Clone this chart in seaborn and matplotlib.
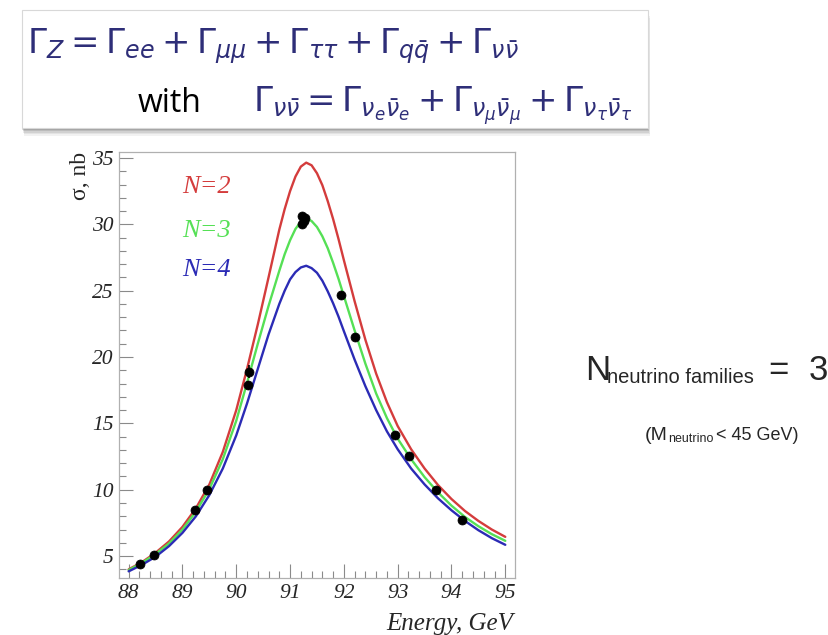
import numpy as np
import pandas as pd
import seaborn as sns
import matplotlib.pyplot as plt
from matplotlib.patches import Rectangle
from matplotlib.ticker import MultipleLocator

# curve values (sigma in nb vs energy in GeV)
energy = [88.0, 88.25, 88.5, 88.75, 89.0, 89.25, 89.5, 89.75, 90.0, 90.2,
          90.4, 90.6, 90.8, 90.9, 91.0, 91.1, 91.2, 91.3, 91.4, 91.5,
          91.6, 91.7, 91.8, 91.9, 92.0, 92.2, 92.4, 92.6, 92.8, 93.0,
          93.25, 93.5, 93.75, 94.0, 94.25, 94.5, 94.75, 95.0]
sigma_n2 = [4.0, 4.55, 5.25, 6.1, 7.2, 8.6, 10.4, 12.85, 16.0, 19.1,
            22.45, 26.0, 29.6, 31.15, 32.5, 33.6, 34.35, 34.65, 34.45, 33.85,
            32.95, 31.75, 30.4, 28.9, 27.3, 24.2, 21.3, 18.75, 16.6, 14.8,
            13.05, 11.6, 10.35, 9.3, 8.4, 7.65, 7.0, 6.45]
sigma_n3 = [3.95, 4.5, 5.15, 5.95, 7.0, 8.35, 10.05, 12.3, 15.2, 18.05,
            21.0, 23.85, 26.5, 27.75, 28.8, 29.65, 30.2, 30.45, 30.25, 29.8,
            29.1, 28.2, 27.1, 25.9, 24.6, 22.0, 19.5, 17.25, 15.4, 13.85,
            12.3, 10.95, 9.8, 8.8, 7.95, 7.25, 6.65, 6.15]
sigma_n4 = [3.85, 4.35, 4.95, 5.75, 6.75, 8.0, 9.6, 11.6, 14.1, 16.5,
            19.1, 21.7, 24.0, 25.0, 25.85, 26.4, 26.75, 26.88, 26.7, 26.35,
            25.75, 24.95, 24.05, 23.05, 21.95, 19.8, 17.8, 16.0, 14.4, 13.05,
            11.6, 10.4, 9.35, 8.45, 7.65, 6.95, 6.35, 5.85]

# measured points
data_energy = [88.22, 88.47, 89.23, 89.46, 90.21, 90.23, 91.22, 91.28,
               91.22, 91.25, 91.95, 92.21, 92.95, 93.21, 93.71, 94.20]
data_sigma = [4.4, 5.1, 8.45, 9.95, 17.9, 18.9, 30.6, 30.45,
              30.0, 30.25, 24.7, 21.5, 14.1, 12.55, 10.0, 7.75]
data_err = [0.1, 0.1, 0.15, 0.15, 0.3, 0.5, 0.2, 0.2,
            0.2, 0.2, 0.2, 0.2, 0.15, 0.15, 0.1, 0.1]

labels = ['N=2', 'N=3', 'N=4']
colors = {'N=2': '#d43c3c', 'N=3': '#55e055', 'N=4': '#2b2bb5'}

sns.set_style('white')
plt.rcParams['font.family'] = ['Liberation Serif', 'DejaVu Serif']
plt.rcParams['mathtext.fontset'] = 'dejavusans'

fig = plt.figure(figsize=(8.29, 6.35), dpi=100)
ax = fig.add_axes([0.1435, 0.0898, 0.4777, 0.6708])

curves = pd.DataFrame({
    'energy': energy * 3,
    'sigma': sigma_n2 + sigma_n3 + sigma_n4,
    'N': [labels[0]] * len(energy) + [labels[1]] * len(energy) + [labels[2]] * len(energy),
})
sns.lineplot(data=curves, x='energy', y='sigma', hue='N', palette=colors,
             estimator=None, linewidth=1.7, legend=False, ax=ax)

ax.errorbar(data_energy, data_sigma, yerr=data_err, fmt='none',
            ecolor='black', elinewidth=1.2, zorder=4)
sns.scatterplot(x=data_energy, y=data_sigma, color='black', s=42,
                edgecolor='black', zorder=5, ax=ax)

ax.set_xlim(87.82, 95.18)
ax.set_ylim(3.35, 35.45)
ax.set_xticks(range(88, 96))
ax.set_xticklabels([str(v) for v in range(88, 96)], fontstyle='italic')
ax.set_yticks(range(5, 40, 5))
ax.set_yticklabels([str(v) for v in range(5, 40, 5)], fontstyle='italic')
ax.xaxis.set_minor_locator(MultipleLocator(0.2))
ax.yaxis.set_minor_locator(MultipleLocator(1))
ax.tick_params(which='both', bottom=True, left=True, top=False, right=False)
ax.tick_params(which='major', direction='in', length=10, width=0.8,
               color='#8a8a8a', labelsize=15.5, pad=4)
ax.tick_params(which='minor', direction='in', length=5, width=0.8,
               color='#8a8a8a')
for s in ax.spines.values():
    s.set_color('#b0b0b0')
    s.set_linewidth(0.9)
ax.set_xlabel('')
ax.set_ylabel('')

ax.text(-0.098, 1.0, 'σ, nb', rotation=90, transform=ax.transAxes,
        ha='center', va='top', fontsize=17)
fig.text(513 / 829, 1 - 624 / 635, 'Energy, GeV', ha='right', va='center',
         fontstyle='italic', fontsize=18)

for lab, yp in zip(labels, [187.5, 231, 270]):
    fig.text(182 / 829, 1 - yp / 635, lab, color=colors[lab], fontsize=19,
             fontstyle='italic', va='center', ha='left')

# equation box at the top with a soft shadow
for i, a in enumerate([0.05, 0.06, 0.08, 0.1, 0.12]):
    off = (5 - i) * 1.6
    fig.patches.append(Rectangle(((22 + off * 0.3) / 829, 1 - (128 + off) / 635),
                                 (626) / 829, 118 / 635,
                                 transform=fig.transFigure, facecolor='black',
                                 edgecolor='none', alpha=a, zorder=1))
fig.patches.append(Rectangle((22 / 829, 1 - 128 / 635), 626 / 829, 118 / 635,
                             transform=fig.transFigure, facecolor='white',
                             edgecolor='#d8d8d8', linewidth=0.8, zorder=2))

navy = '#2e2e78'
line1 = (r'$\Gamma_Z = \Gamma_{ee} + \Gamma_{\mu\mu} + \Gamma_{\tau\tau}'
         r' + \Gamma_{q\bar{q}} + \Gamma_{\nu\bar{\nu}}$')
line2 = (r'$\Gamma_{\nu\bar{\nu}} = \Gamma_{\nu_e\bar{\nu}_e}'
         r' + \Gamma_{\nu_\mu\bar{\nu}_\mu} + \Gamma_{\nu_\tau\bar{\nu}_\tau}$')
fig.text(27 / 829, 1 - 53 / 635, line1, color=navy, fontsize=24.5,
         va='baseline', ha='left', zorder=3)
fig.text(138 / 829, 1 - 112 / 635, 'with', color='black', fontsize=23,
         family='Open Sans', va='baseline', ha='left', zorder=3)
fig.text(253 / 829, 1 - 112 / 635, line2, color=navy, fontsize=24.5,
         va='baseline', ha='left', zorder=3)

# side note
sans = 'Liberation Sans'
fig.text(585 / 829, 1 - 380 / 635, 'N', family=sans, fontsize=25,
         va='baseline', ha='left')
fig.text(607 / 829, 1 - 383 / 635, 'neutrino families', family=sans,
         fontsize=14.5, va='baseline', ha='left')
fig.text(768 / 829, 1 - 380 / 635, '=', family=sans, fontsize=25,
         va='baseline', ha='left')
fig.text(809 / 829, 1 - 380 / 635, '3', family=sans, fontsize=25,
         va='baseline', ha='left')
fig.text(645 / 829, 1 - 440 / 635, '(M', family=sans, fontsize=14,
         va='baseline', ha='left')
fig.text(668 / 829, 1 - 442 / 635, 'neutrino', family=sans, fontsize=9,
         va='baseline', ha='left')
fig.text(716 / 829, 1 - 440 / 635, '< 45 GeV)', family=sans, fontsize=13,
         va='baseline', ha='left')

fig.savefig('out.png', dpi=100)
